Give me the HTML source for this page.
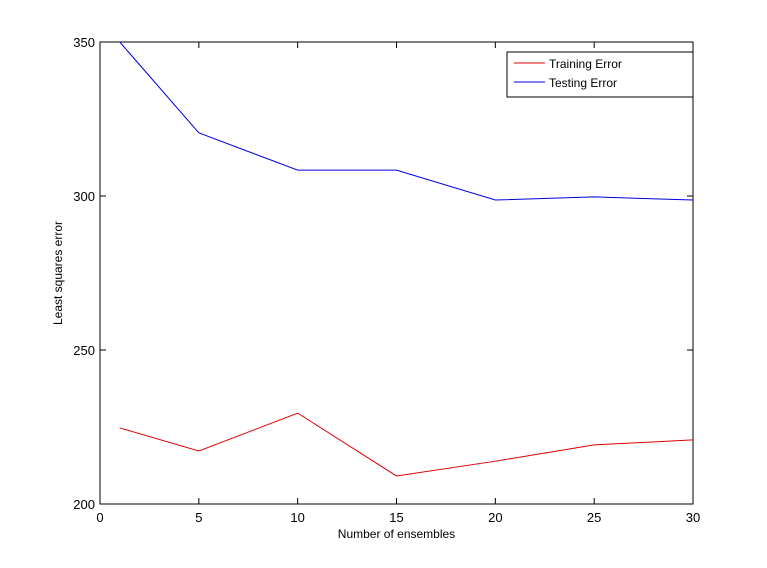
<!DOCTYPE html>
<html><head><meta charset="utf-8"><style>
body{margin:0;background:#fff;}
svg{display:block;font-family:"Liberation Sans",Arial,sans-serif;}
</style></head><body>
<svg id="chart" width="767" height="568" viewBox="0 0 767 568">
<rect x="0" y="0" width="767" height="568" fill="#fff"/>
<g id="g"></g>
</svg>
<script>
const xs=[1,5,10,15,20,25,30];
const trainErr=[224.7,217.2,229.5,209.1,213.9,219.2,220.8];
const testErr=[350,320.5,308.4,308.4,298.7,299.7,298.7];
const xTicks=[0,5,10,15,20,25,30];
const yTicks=[200,250,300,350];
const L=100,R=693,T=42,B=504;
const X=v=>L+(v-0)/(30-0)*(R-L);
const Y=v=>B-(v-200)/(350-200)*(B-T);
const NS="http://www.w3.org/2000/svg";
const g=document.getElementById('g');
function mk(t,a,p){const e=document.createElementNS(NS,t);for(const k in a)e.setAttribute(k,a[k]);(p||g).appendChild(e);return e;}
const frame=mk('rect',{x:L,y:T,width:R-L,height:B-T,fill:'#fff',stroke:'#000','stroke-width':1});


xTicks.forEach(v=>{
 const x=X(v);
 const t1=mk('line',{x1:x,y1:B,x2:x,y2:B-6,stroke:'#000'});
 
 
 mk('line',{x1:x,y1:T,x2:x,y2:T+6,stroke:'#000'});
 const tx=mk('text',{x:x,y:B+18,'text-anchor':'middle','font-size':13});
 tx.textContent=v;
 
 
});
yTicks.forEach(v=>{
 const y=Y(v);
 const t1=mk('line',{x1:L,y1:y,x2:L+6,y2:y,stroke:'#000'});
 
 
 mk('line',{x1:R,y1:y,x2:R-6,y2:y,stroke:'#000'});
 const tx=mk('text',{x:L-5,y:y+5,'text-anchor':'end','font-size':13});
 tx.textContent=v;
 
 
});
function series(vals,color,name){
 const p=mk('polyline',{points:xs.map((x,i)=>X(x)+','+Y(vals[i])).join(' '),fill:'none',stroke:color,'stroke-width':1});
 
 
}
series(trainErr,'#e00000','training-error-line');
series(testErr,'#0000e0','testing-error-line');
const xl=mk('text',{x:(L+R)/2,y:B+34,'text-anchor':'middle','font-size':12});
xl.textContent='Number of ensembles';


const yl=mk('text',{x:0,y:0,'text-anchor':'middle','font-size':12,transform:`translate(62,${(T+B)/2}) rotate(-90)`});
yl.textContent='Least squares error';


const lg=mk('g',{});


mk('rect',{x:507,y:52,width:186,height:45,fill:'#fff',stroke:'#000'},lg);
[['Training Error','#e00000',67],['Testing Error','#0000e0',86]].forEach(([n,c,y])=>{
 const ln=mk('line',{x1:514,y1:y-4,x2:545,y2:y-4,stroke:c},lg);
 
 
 const t=mk('text',{x:549,y:y+1,'font-size':12},lg);
 t.textContent=n;
 
 
});
</script>
</body></html>
